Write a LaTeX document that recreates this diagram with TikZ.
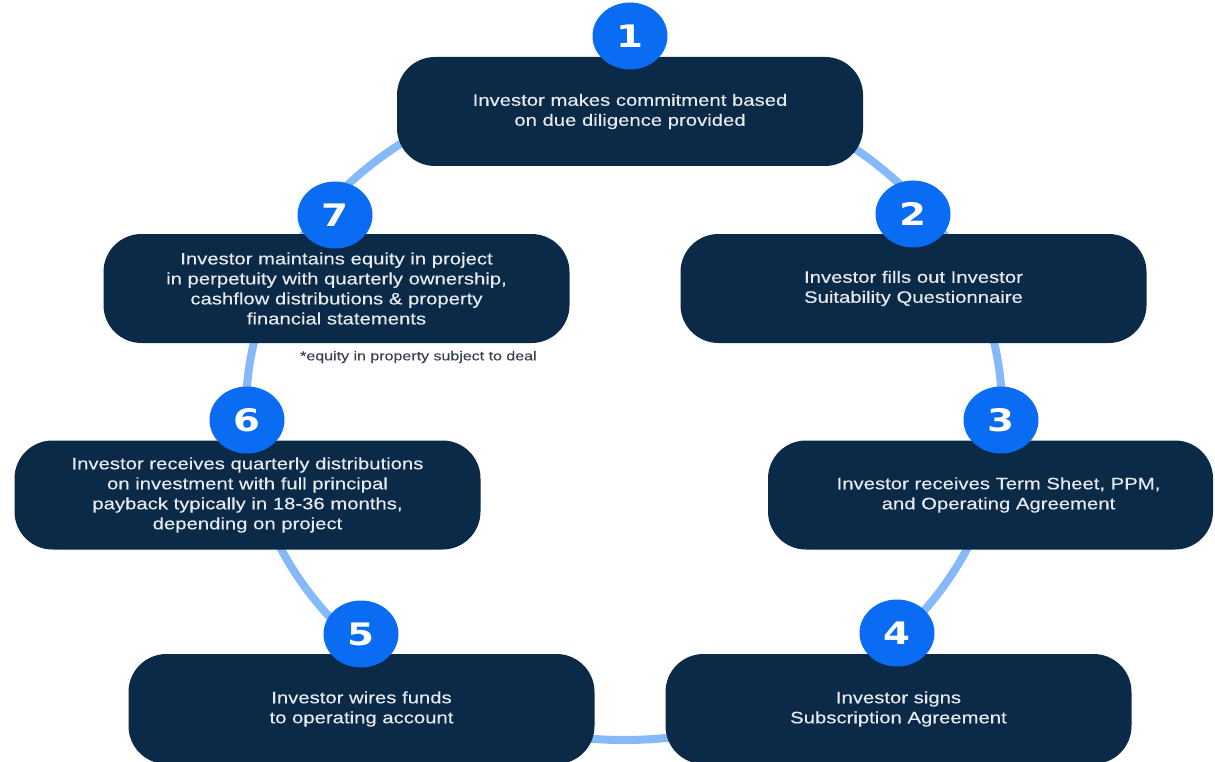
\documentclass[tikz,border=0pt]{standalone}
\usepackage{fontspec}
\setmainfont{Liberation Sans}[FakeStretch=1.23,FakeBold=0.3]
\newfontfamily\numfont{DejaVu Sans}[FakeStretch=1.25]
\usetikzlibrary{shapes.geometric}
\definecolor{navy}{HTML}{0B2A48}
\definecolor{numblue}{HTML}{0A6CF2}
\definecolor{ringblue}{HTML}{86B9F7}
\definecolor{boxtext}{HTML}{E6E9EE}
\definecolor{notegray}{HTML}{3A4250}
\begin{document}
\begin{tikzpicture}[x=1pt,y=-1pt,
  box/.style={fill=navy, rounded corners=38pt, minimum width=466pt, minimum height=109pt,
    text=boxtext, align=center, font=\fontsize{16.5}{20}\selectfont, inner sep=0pt},
  num/.style={ellipse, fill=numblue, minimum width=75pt, minimum height=67pt, text=white,
    font=\numfont\bfseries\fontsize{31}{31}\selectfont, inner sep=0pt},
  ring/.style={draw=ringblue, line width=8pt},
  note/.style={text=notegray, font=\fontsize{13}{15}\selectfont, inner sep=0pt, anchor=west}]
\useasboundingbox (0,0) rectangle (1215,762);
\clip (0,0) rectangle (1215,762);
\coordinate (rc) at (624,410);
\draw[ring] (rc) ellipse [x radius=378, y radius=330];

\node[box] (b1) at (630,111.5) {Investor makes commitment based\\on due diligence provided};
\node[box] (b2) at (913.5,288.5) {Investor fills out Investor\\Suitability Questionnaire};
\node[box, minimum width=445pt] (b3) at (990.5,495) {\hspace*{16pt}Investor receives Term Sheet, PPM,\\\hspace*{16pt}and Operating Agreement};
\node[box, minimum height=110pt] (b4) at (898.5,709) {Investor signs\\Subscription Agreement};
\node[box, minimum height=110pt] (b5) at (361.5,709) {Investor wires funds\\to operating account};
\node[box] (b6) at (247.5,495) {Investor receives quarterly distributions\\on investment with full principal\\payback typically in 18-36 months,\\depending on project};
\node[box] (b7) at (336.5,288.5) {Investor maintains equity in project\\in perpetuity with quarterly ownership,\\cashflow distributions \& property\\financial statements};

\node[num] (n1) at (630,36) {1};
\node[num] (n2) at (913,214) {2};
\node[num] (n3) at (1001,420) {3};
\node[num] (n4) at (897,633) {4};
\node[num] (n5) at (361,634) {5};
\node[num] (n6) at (247,420) {6};
\node[num] (n7) at (335,215) {7};

\node[note] (fn) at (300,357) {*equity in property subject to deal};
\end{tikzpicture}
\end{document}
